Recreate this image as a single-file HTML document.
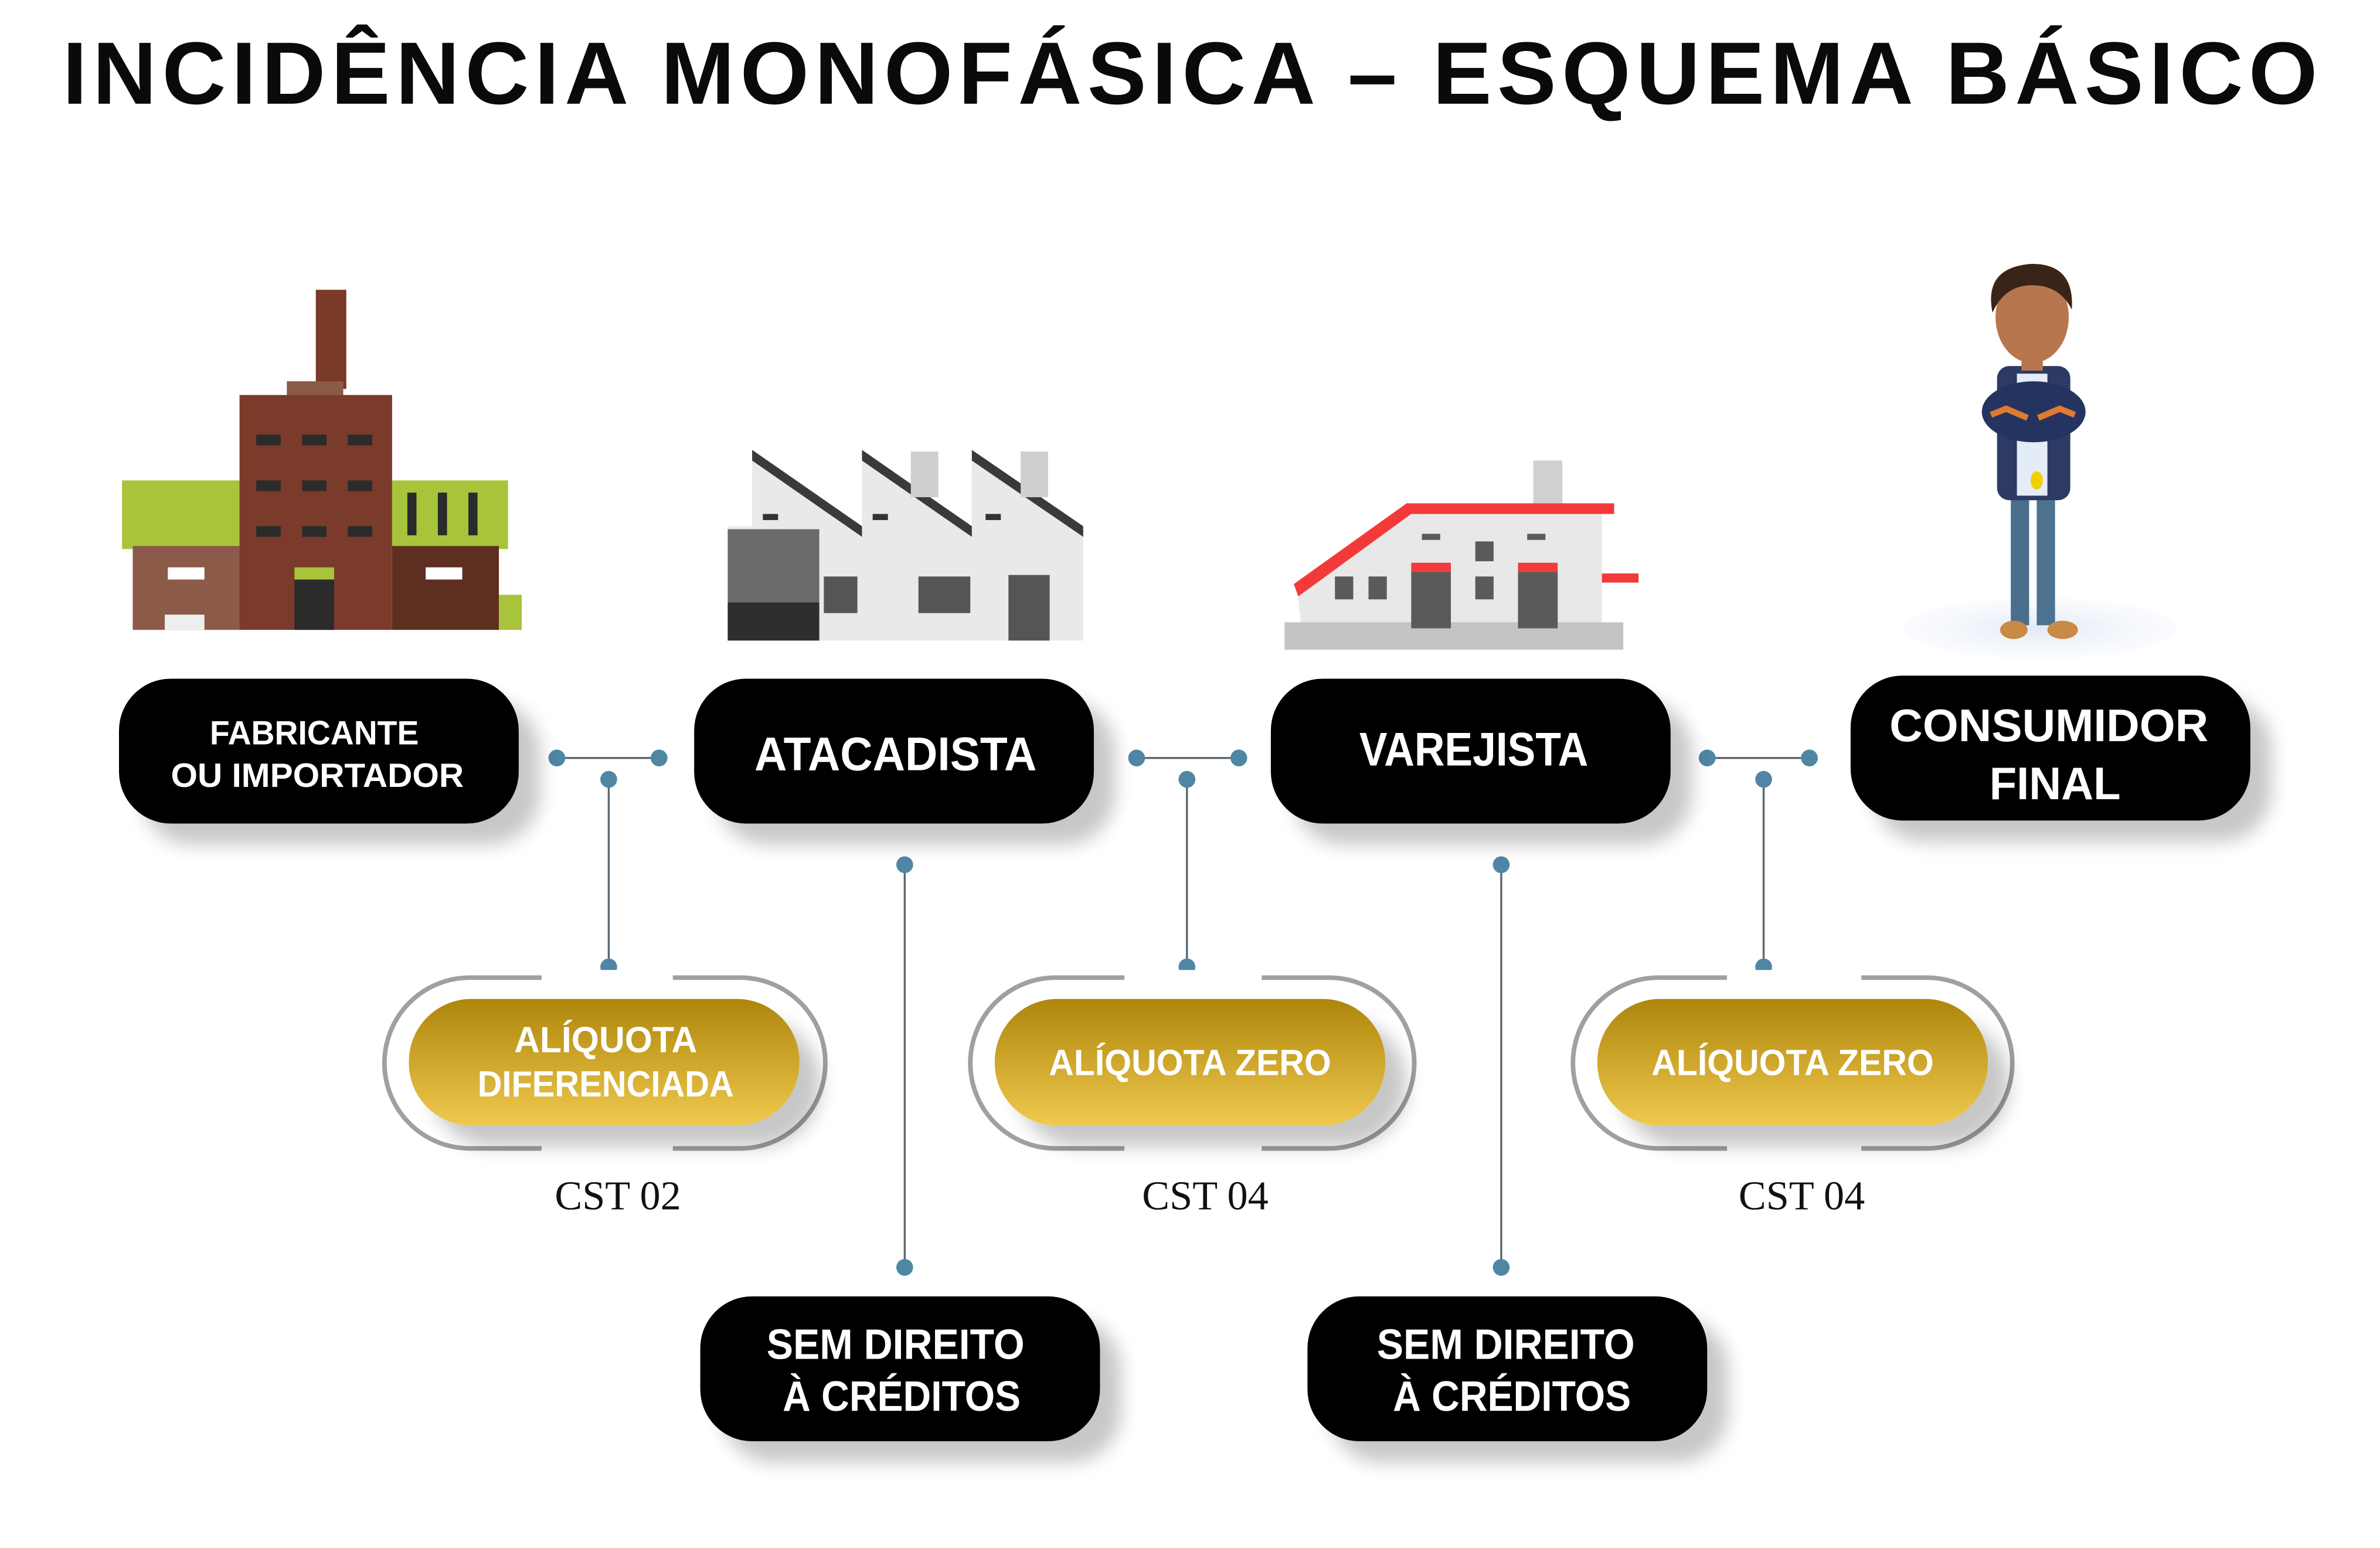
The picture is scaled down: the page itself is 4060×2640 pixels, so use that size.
<!DOCTYPE html>
<html><head><meta charset="utf-8"><style>
html,body{margin:0;padding:0;background:#fff;}
svg{display:block;}
</style></head><body>
<svg width="4060" height="2640" viewBox="0 0 1560 1015" preserveAspectRatio="none" xmlns="http://www.w3.org/2000/svg">
<defs>
<filter id="sh" x="-20%" y="-20%" width="150%" height="170%">
<feGaussianBlur in="SourceAlpha" stdDeviation="6"/>
<feOffset dx="14" dy="14" result="b"/>
<feComponentTransfer><feFuncA type="linear" slope="0.22"/></feComponentTransfer>
<feMerge><feMergeNode/><feMergeNode in="SourceGraphic"/></feMerge>
</filter>
<linearGradient id="gold" x1="0" y1="0" x2="0" y2="1">
<stop offset="0" stop-color="#ad860c"/><stop offset="0.55" stop-color="#d2aa30"/><stop offset="1" stop-color="#efc94e"/>
</linearGradient>
<radialGradient id="floor"><stop offset="0" stop-color="#e2e9f6"/><stop offset="1" stop-color="#f4f7fc" stop-opacity="0.4"/></radialGradient>
</defs>

<text x="780" y="68" text-anchor="middle" font-family="Liberation Sans, sans-serif" font-weight="bold" font-size="58" textLength="1478" lengthAdjust="spacing" fill="#0a0a0a">INCIDÊNCIA MONOFÁSICA – ESQUEMA BÁSICO</text>

<!-- Factory -->
<rect x="207" y="190" width="20" height="65" fill="#7a3a28"/>
<rect x="188" y="250" width="37" height="12" fill="#8c5a48"/>
<rect x="80" y="315" width="78" height="45" fill="#a8c43a"/>
<rect x="257" y="315" width="76" height="45" fill="#a8c43a"/>
<rect x="87" y="358" width="71" height="55" fill="#8c5a48"/>
<rect x="257" y="358" width="70" height="55" fill="#5e2e20"/>
<rect x="327" y="390" width="15" height="23" fill="#a8c43a"/>
<rect x="157" y="259" width="100" height="154" fill="#7a3b2a"/>
<g fill="#2b2b2b">
<rect x="168" y="285" width="16" height="7"/><rect x="198" y="285" width="16" height="7"/><rect x="228" y="285" width="16" height="7"/>
<rect x="168" y="315" width="16" height="7"/><rect x="198" y="315" width="16" height="7"/><rect x="228" y="315" width="16" height="7"/>
<rect x="168" y="345" width="16" height="7"/><rect x="198" y="345" width="16" height="7"/><rect x="228" y="345" width="16" height="7"/>
<rect x="193" y="375" width="26" height="38"/>
<rect x="267" y="323" width="6" height="28"/><rect x="287" y="323" width="6" height="28"/><rect x="307" y="323" width="6" height="28"/>
</g>
<rect x="193" y="372" width="26" height="8" fill="#a8c43a"/>
<rect x="110" y="372" width="24" height="8" fill="#fff"/><rect x="279" y="372" width="24" height="8" fill="#fff"/>
<rect x="108" y="403" width="26" height="10" fill="#eee"/>

<!-- Warehouse -->
<polygon points="493,297 565,345 565,297 637,345 637,297 710,345 710,420 477,420 477,345 493,345" fill="#e9e9e9"/>
<polygon points="493,295 565,345 565,352 493,302" fill="#3a3a3a"/>
<polygon points="565,295 637,345 637,352 565,302" fill="#3a3a3a"/>
<polygon points="637,295 710,345 710,352 637,302" fill="#3a3a3a"/>
<rect x="597" y="296" width="18" height="30" fill="#cfcfcf"/><rect x="669" y="296" width="18" height="30" fill="#cfcfcf"/>
<rect x="477" y="347" width="60" height="73" fill="#6a6a6a"/>
<rect x="477" y="395" width="60" height="25" fill="#2e2e2e"/>
<rect x="540" y="378" width="22" height="24" fill="#555"/><rect x="602" y="378" width="34" height="24" fill="#555"/>
<rect x="661" y="377" width="27" height="43" fill="#555"/>
<rect x="500" y="337" width="10" height="4" fill="#333"/><rect x="572" y="337" width="10" height="4" fill="#333"/><rect x="646" y="337" width="10" height="4" fill="#333"/>

<!-- Store -->
<rect x="1005" y="302" width="19" height="30" fill="#d0d0d0"/>
<polygon points="850,385 925,335 1050,335 1050,410 853,410" fill="#e8e8e8"/>
<polygon points="848,383 922,330 1058,330 1058,337 925,337 851,391" fill="#f23a3a"/>
<rect x="842" y="408" width="222" height="18" fill="#c4c4c4"/>
<g fill="#5a5a5a"><rect x="875" y="378" width="12" height="15"/><rect x="897" y="378" width="12" height="15"/>
<rect x="925" y="375" width="26" height="37"/><rect x="995" y="375" width="26" height="37"/>
<rect x="967" y="355" width="12" height="13"/><rect x="967" y="378" width="12" height="15"/>
<rect x="932" y="350" width="12" height="4"/><rect x="1001" y="350" width="12" height="4"/></g>
<rect x="925" y="369" width="26" height="6" fill="#f23a3a"/><rect x="995" y="369" width="26" height="6" fill="#f23a3a"/>
<rect x="1050" y="376" width="24" height="6" fill="#f23a3a"/>

<!-- Person -->
<ellipse cx="1337" cy="412" rx="90" ry="20" fill="url(#floor)"/>
<rect x="1318" y="318" width="12" height="92" fill="#4a6e8c"/><rect x="1335" y="318" width="12" height="92" fill="#4d7290"/>
<ellipse cx="1320" cy="413" rx="9" ry="6" fill="#c98a45"/><ellipse cx="1352" cy="413" rx="10" ry="6" fill="#c98a45"/>
<rect x="1309" y="240" width="48" height="88" rx="8" fill="#2c3a64"/>
<rect x="1322" y="245" width="20" height="80" fill="#e3ecf7"/>
<ellipse cx="1333" cy="270" rx="34" ry="20" fill="#253360"/>
<path d="M1305 272 l10 -4 l14 6 M1360 272 l-10 -4 l-14 6" stroke="#e07a30" stroke-width="4" fill="none"/>
<ellipse cx="1335" cy="315" rx="4" ry="6" fill="#f0d000"/>
<rect x="1325" y="225" width="14" height="18" fill="#b8764e"/>
<ellipse cx="1332" cy="208" rx="24" ry="30" fill="#b8764e"/>
<path d="M1306 205 q-6 -30 26 -32 q28 0 26 30 q-8 -16 -26 -16 q-18 0 -26 18z" fill="#3a2418"/>

<!-- connectors -->
<g stroke="#5a6670" stroke-width="1.3" fill="none">
<line x1="365" y1="497" x2="432" y2="497"/><line x1="399" y1="511" x2="399" y2="634"/>
<line x1="745" y1="497" x2="812" y2="497"/><line x1="778" y1="511" x2="778" y2="634"/>
<line x1="1119" y1="497" x2="1186" y2="497"/><line x1="1156" y1="511" x2="1156" y2="634"/>
<line x1="593" y1="567" x2="593" y2="831"/><line x1="984" y1="567" x2="984" y2="831"/>
</g>
<g fill="#4f86a3">
<circle cx="365" cy="497" r="5.5"/><circle cx="432" cy="497" r="5.5"/><circle cx="399" cy="511" r="5.5"/><circle cx="399" cy="634" r="5.5"/>
<circle cx="745" cy="497" r="5.5"/><circle cx="812" cy="497" r="5.5"/><circle cx="778" cy="511" r="5.5"/><circle cx="778" cy="634" r="5.5"/>
<circle cx="1119" cy="497" r="5.5"/><circle cx="1186" cy="497" r="5.5"/><circle cx="1156" cy="511" r="5.5"/><circle cx="1156" cy="634" r="5.5"/>
<circle cx="593" cy="567" r="5.5"/><circle cx="593" cy="831" r="5.5"/><circle cx="984" cy="567" r="5.5"/><circle cx="984" cy="831" r="5.5"/>
</g>

<!-- black boxes -->
<g fill="#000" filter="url(#sh)">
<rect x="78" y="445" width="262" height="95" rx="34"/>
<rect x="455" y="445" width="262" height="95" rx="34"/>
<rect x="833" y="445" width="262" height="95" rx="34"/>
<rect x="1213" y="443" width="262" height="95" rx="34"/>
<rect x="459" y="850" width="262" height="95" rx="34"/>
<rect x="857" y="850" width="262" height="95" rx="34"/>
</g>
<g fill="#fff" font-family="Liberation Sans Narrow, Liberation Sans, sans-serif" font-weight="bold" text-anchor="middle" lengthAdjust="spacingAndGlyphs">
<text x="206" y="488" font-size="22" textLength="137" lengthAdjust="spacingAndGlyphs">FABRICANTE</text>
<text x="208" y="516" font-size="22" textLength="192" lengthAdjust="spacingAndGlyphs">OU IMPORTADOR</text>
<text x="587" y="505" font-size="31" textLength="185" lengthAdjust="spacingAndGlyphs">ATACADISTA</text>
<text x="966" y="502" font-size="31" textLength="150" lengthAdjust="spacingAndGlyphs">VAREJISTA</text>
<text x="1343" y="486" font-size="30" textLength="209" lengthAdjust="spacingAndGlyphs">CONSUMIDOR</text>
<text x="1347" y="524" font-size="30" textLength="86" lengthAdjust="spacingAndGlyphs">FINAL</text>
<text x="587" y="891" font-size="28" textLength="169" lengthAdjust="spacingAndGlyphs">SEM DIREITO</text>
<text x="591" y="925" font-size="28" textLength="156" lengthAdjust="spacingAndGlyphs">À CRÉDITOS</text>
<text x="987" y="891" font-size="28" textLength="169" lengthAdjust="spacingAndGlyphs">SEM DIREITO</text>
<text x="991" y="925" font-size="28" textLength="156" lengthAdjust="spacingAndGlyphs">À CRÉDITOS</text>
</g>

<!-- gold pills -->
<g fill="none" stroke="#a0a0a0" stroke-width="3">
<rect x="252" y="641" width="289" height="112" rx="56"/>
<rect x="636" y="641" width="291" height="112" rx="56"/>
<rect x="1031" y="641" width="288" height="112" rx="56"/>
</g>
<g fill="#fff">
<rect x="355" y="636" width="86" height="10"/><rect x="355" y="748" width="86" height="10"/>
<rect x="737" y="636" width="90" height="10"/><rect x="737" y="748" width="90" height="10"/>
<rect x="1132" y="636" width="88" height="10"/><rect x="1132" y="748" width="88" height="10"/>
</g>
<g fill="url(#gold)" filter="url(#sh)">
<rect x="268" y="655" width="256" height="83" rx="41"/>
<rect x="652" y="655" width="256" height="83" rx="41"/>
<rect x="1047" y="655" width="256" height="83" rx="41"/>
</g>
<g fill="#fff" font-family="Liberation Sans Narrow, Liberation Sans, sans-serif" font-weight="bold" text-anchor="middle" font-size="24">
<text x="397" y="690" textLength="120" lengthAdjust="spacingAndGlyphs">ALÍQUOTA</text>
<text x="397" y="719" textLength="168" lengthAdjust="spacingAndGlyphs">DIFERENCIADA</text>
<text x="780" y="705" textLength="185" lengthAdjust="spacingAndGlyphs">ALÍQUOTA ZERO</text>
<text x="1175" y="705" textLength="185" lengthAdjust="spacingAndGlyphs">ALÍQUOTA ZERO</text>
</g>
<g fill="#111" font-family="Liberation Serif, serif" font-size="27" text-anchor="middle">
<text x="405" y="793">CST 02</text>
<text x="790" y="793">CST 04</text>
<text x="1181" y="793">CST 04</text>
</g>
</svg>
</body></html>
